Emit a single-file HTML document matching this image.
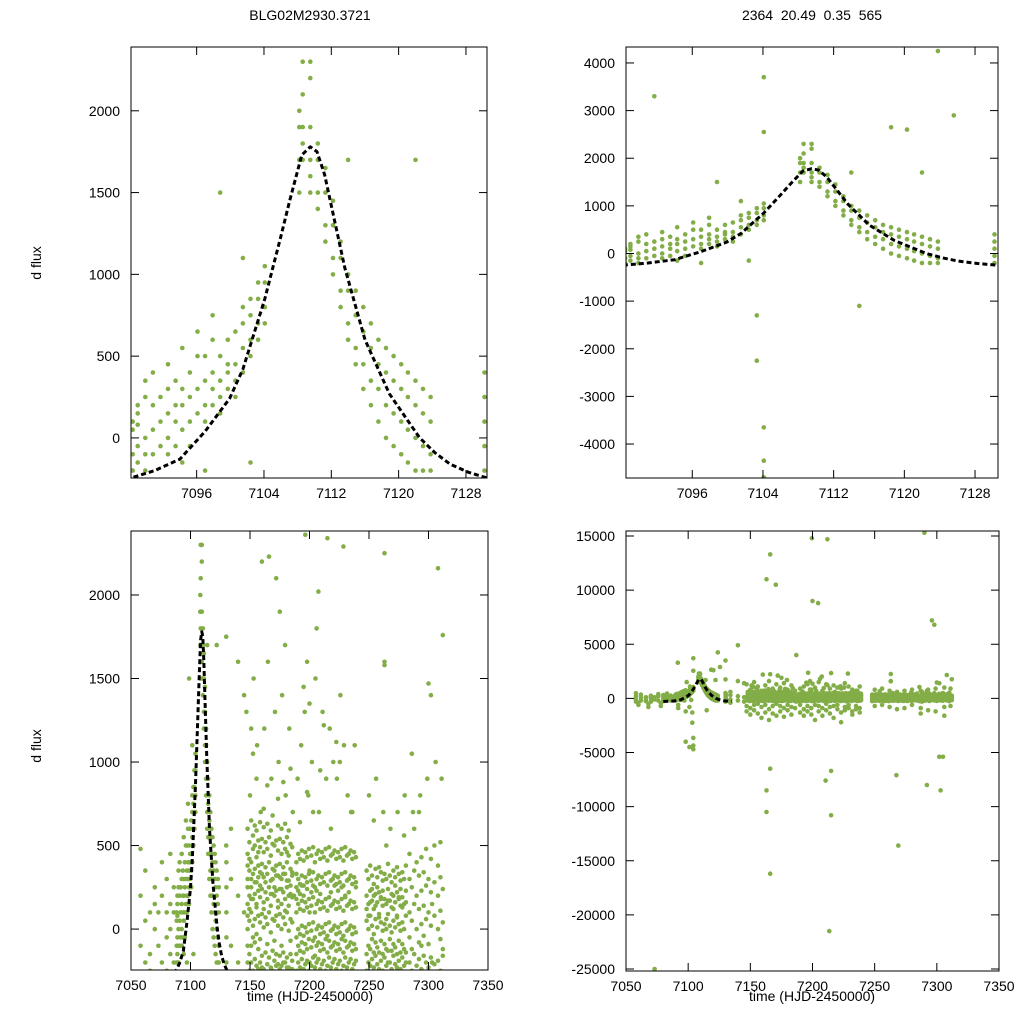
<!DOCTYPE html>
<html><head><meta charset="utf-8">
<style>
html,body{margin:0;padding:0;background:#fff;overflow:hidden;width:1024px;height:1024px;}
svg{display:block;font-family:"Liberation Sans",sans-serif;}
</style></head>
<body>
<svg id="chart" width="1024" height="1024" viewBox="0 0 1024 1024" xmlns="http://www.w3.org/2000/svg">
<rect width="1024" height="1024" fill="#fff"/>
<text x="310" y="20" font-size="14" text-anchor="middle">BLG02M2930.3721</text>
<text x="812" y="20" font-size="14" text-anchor="middle" xml:space="preserve">2364  20.49  0.35  565</text>
<text transform="translate(41,263) rotate(-90)" font-size="14" text-anchor="middle">d flux</text>
<text transform="translate(41,746) rotate(-90)" font-size="14" text-anchor="middle">d flux</text>
<text x="310" y="1001" font-size="14" text-anchor="middle">time (HJD-2450000)</text>
<text x="812" y="1001" font-size="14" text-anchor="middle">time (HJD-2450000)</text>
</svg>
<script>
// ---- data: zoom-window nights [time, fluxes] ----
const zoomNights = [
[7088.4,[-200,50,-100,100]],[7089.0,[-150,80,150,-50,200]],[7089.9,[-100,0,250,350,-200]],
[7090.8,[50,-100,200,400]],[7091.7,[100,-50,250,3300]],[7092.6,[150,0,300,450,-100]],
[7093.5,[100,200,-50,350]],[7094.3,[200,50,300,550,-150]],[7095.2,[250,100,400,-50]],
[7096.1,[300,150,500,650]],[7097.0,[200,350,100,500,-200]],[7097.9,[300,400,200,600,750]],
[7098.8,[350,250,500,150,1500]],[7099.7,[400,300,600,450]],[7100.6,[450,350,650,250]],
[7101.5,[550,400,700,800,1100]],[7102.4,[600,500,750,-150,850]],[7103.3,[700,850,600,950,-1300,-2250]],
[7104.1,[800,950,1050,700,3700,2550,-3650,-4350,-4700]],[7108.2,[1500,1700,1900,2000]],
[7108.6,[1800,2100,2300,1900,1700]],[7109.5,[1600,1900,2200,2300,1700,1500]],
[7110.4,[1500,1700,1800,1400]],[7111.3,[1300,1500,1200,1650]],[7112.2,[1100,1300,1000,1450]],
[7113.1,[900,1100,1200,800]],[7114.0,[700,900,1000,600,1700]],[7114.9,[550,750,900,450,-1100]],
[7115.8,[450,650,800,300]],[7116.7,[350,550,700,200]],[7117.6,[300,450,600,100]],
[7118.5,[200,400,550,0,2650]],[7119.4,[150,350,500,-50]],[7120.3,[100,300,450,-100,2600]],
[7121.1,[50,250,400,-150]],[7122.0,[0,200,350,-200,1700]],[7122.9,[-50,150,300,-200]],
[7123.8,[-100,100,250,-200,4250]],[7125.6,[2900]],[7130.2,[-50,100,250,400,-200]]
];
// ---- data: full-season nights [time, fluxes] ----
const seasonNights = [
[7058,[-100,200,-300,480]],[7062,[50,-200,350]],[7066,[-150,100,-250]],[7070,[0,250,-300,150]],
[7073,[-25000,-100,100]],[7076,[200,-200,400]],[7080,[-50,300,-250,100]],[7083,[150,-150,450,0]],
[7086,[-200,100,250]],[7130,[3500,1750,500,-300]],[7134,[-100,300,-400,600]],
[7140,[4900,1600,200,-200]],[7145,[1400,100,-300]],
[7148,[-200,0,150,300,450,600,80,250,-100,380]],[7149.5,[-150,50,200,350,520,-250,120,420]],
[7151,[-100,100,250,400,650,1200,-200,300,180]],[7152.5,[-250,20,180,330,480,560,1050,-50]],
[7154,[-180,60,210,360,500,620,-80,280]],[7155.5,[-220,-30,130,280,430,590,150,900]],
[7157,[-120,80,230,380,530,-240,310,460]],[7158.5,[-200,40,190,340,490,640,-60,260]],
[7160,[-160,90,240,390,540,2200,-230,330]],[7161.5,[-240,10,160,310,460,610,120,720]],
[7163,[-140,70,220,370,520,11000,-10500,-8500,280]],[7164.5,[-210,30,180,330,480,630,-90,860]],
[7166,[-170,100,250,400,550,2230,-16200,-6500,13300]],[7167.5,[-230,-20,140,290,440,590,210]],
[7169,[-130,60,210,360,510,-250,300,680]],[7170.5,[-190,50,200,350,500,10500,-70,250]],
[7172,[-150,80,230,380,530,2100,-220,320]],[7173.5,[-210,20,170,320,470,620,130,780]],
[7175,[-160,90,240,390,540,1900,-240,310]],[7176.5,[-220,0,150,300,450,600,-100,240]],
[7178,[-140,70,220,370,520,-200,330,880]],[7179.5,[-200,30,180,330,480,630,110,1700]],
[7181,[-170,100,250,400,550,-230,290,460]],[7182.5,[-230,-10,140,290,440,590,200]],
[7184,[-150,60,210,360,510,-70,260,960]],[7185.5,[-190,40,190,340,490,-240,320]],
[7187,[4000,-300,200]],
[7189,[-250,-50,100,250,400,-150,180,330]],[7190.5,[-200,0,150,300,450,-100,230]],
[7192,[-230,-30,120,270,420,-130,210,640]],[7193.5,[-180,20,170,320,470,-80,260]],
[7195,[-240,-40,110,260,410,1450,-140,200]],[7196.5,[-210,10,160,310,460,2360,-90]],
[7198,[-190,-20,130,280,430,1600,-120,240,820]],[7199.5,[-250,30,180,330,480,14800,-60]],
[7200,[9000,1350,-200,100,350]],[7201.5,[-220,-10,140,290,440,-110,220]],
[7203,[-170,40,190,340,490,-70,260,700]],[7204.5,[-230,-50,100,250,400,8800,-160]],
[7206,[-200,0,150,300,450,1800,-100,230]],[7207.5,[-180,20,170,320,470,2020,-80]],
[7209,[-240,-30,120,270,420,-130,210,950]],[7210.5,[-210,10,160,310,460,-7600,-90]],
[7212,[-190,-20,130,280,430,1220,14700,-120]],[7213.5,[-250,30,180,330,480,-21500,-60]],
[7215,[-220,-40,110,260,410,2340,-10800,-6700,-140]],[7216.5,[-170,40,190,340,490,-70]],
[7218,[-230,-10,140,290,440,-110,220,600]],[7219.5,[-200,0,150,300,450,-100]],
[7221,[-180,20,170,320,470,-80,260]],[7222.5,[-240,-30,120,270,420,1120,-130]],
[7224,[-210,10,160,310,460,-90,230]],[7225.5,[-190,-20,130,280,430,1000,-120]],
[7227,[-250,30,180,330,480,-60,250]],[7228.5,[-220,-40,110,260,410,2290,-140]],
[7230,[-170,40,190,340,490,-70,200]],[7231.5,[-230,-10,140,290,440,-110]],
[7233,[-200,0,150,300,450,-100,220]],[7234.5,[-180,20,170,320,470,-80]],
[7236,[-240,-30,120,270,420,-130,700]],[7237.5,[-210,10,160,310,460,-90]],
[7239,[-190,-20,130,280,430,-120,250]],
[7248,[-150,50,200,350,-250,120]],[7249.5,[-200,0,150,300,-100,80]],
[7251,[-120,80,230,380,-220,160]],[7252.5,[-180,20,170,320,-60,240]],
[7254,[-230,-30,120,270,-140,200,650]],[7255.5,[-160,60,210,360,-80,140]],
[7257,[-210,10,160,310,-110,250]],[7258.5,[-140,70,220,370,-240,90]],
[7260,[-190,40,190,340,-70,180]],[7261.5,[-250,-10,140,290,-150,230]],
[7263,[-170,30,180,330,1600,2250,1580,-90]],[7264.5,[-220,0,150,300,-120,60,500]],
[7266,[-130,90,240,390,-200,170]],[7267.5,[-200,20,170,320,-7100,-60]],
[7269,[-240,-20,130,280,-13600,-130,210]],[7270.5,[-160,50,200,350,-90,120]],
[7272,[-210,10,160,310,-110,260]],[7273.5,[-150,70,220,370,-230,80]],
[7275,[-190,30,180,330,-70,190]],[7276.5,[-240,-10,140,290,-140,240]],
[7278,[-170,40,190,340,-90,130]],[7279.5,[-220,0,150,300,-120,560]],
[7281,[-140,80,230,380,-200,160]],
[7284,[-200,100,300,-50,450]],[7286,[-250,50,250,1050,-120]],[7288,[-150,150,350,-300,600]],
[7290,[-220,0,200,15300,400]],[7292,[-180,120,320,-8000,-80,700]],[7294,[-240,30,230,430,-100]],
[7296,[-160,140,340,7200,-40]],[7298,[-200,60,260,6800,480]],[7300,[-230,100,300,1470,-90]],
[7302,[-170,20,220,1400,-5400,420]],[7303,[-8500,-200,150]],[7305,[-210,80,280,-5400,500]],
[7308,[-190,0,200,2160,380]],[7310,[-250,110,310,-60,520]],[7312,[-160,40,240,1760,-120]]
];
// ---- data: wide-scatter nights (visible mostly in the full-range panel) ----
const spreadNights = [
[7060,[-600,-400]],[7068,[-500,-800]],[7078,[-700,-450]],[7092,[-900,-600]],[7098,[-4000,-1200]],[7101,[-4500,-800]],
[7147,[-1200,1300,-700]],[7150,[-900,800,-1500]],[7153,[1500,-600,-1100]],[7156,[-1400,1100,-500]],
[7159,[-800,700,-1800]],[7162,[1200,-1300,-600]],[7165,[-1000,1600,-2000]],[7168,[900,-700,-1400]],
[7171,[-1600,1300,-500]],[7174,[-700,1000,-1200]],[7177,[1400,-900,-1700]],[7180,[-1100,800,-600]],
[7183,[1200,-1500,-800]],[7186,[-900,700]],
[7190,[-1300,900,-600]],[7193,[1100,-1000,-1600]],[7196,[-700,1300,-1200]],[7199,[-1500,800,-900]],
[7202,[1000,-600,-2000]],[7205,[-1200,1500,-700]],[7208,[-900,700,-1600]],[7211,[1300,-1100,-500]],
[7214,[-1400,900,-800]],[7217,[1200,-700,-1800]],[7220,[-1000,1000,-600]],[7223,[900,-1300,-2200]],
[7226,[-800,1400,-1100]],[7229,[1100,-900,-600]],[7232,[-1200,800,-1500]],[7235,[700,-1000,-700]],
[7238,[-900,1100,-1300]],
[7250,[-700,800]],[7256,[900,-600]],[7262,[-800,700]],[7268,[-1000,600]],[7274,[700,-900]],
[7280,[-600,800]],[7287,[-900,700,-1400]],[7293,[800,-1100]],[7299,[-1200,900]],[7306,[-800,1000,-1600]],[7311,[900,-700]]
];
// ---- model curve samples [time], [flux] ----
const modelT = [7080,7088.2,7091,7094.0,7097.0,7099.9,7101.5,7104.1,7106,7107.1,7108.5,7109.5,7110.3,7111.2,7112.3,7113.6,7114.8,7116.0,7118.9,7120.5,7122.5,7124.3,7126.1,7128.3,7130.5,7135];
const modelF = [-290,-245,-200,-130,40,240,420,850,1230,1460,1730,1780,1750,1610,1350,1040,820,600,270,150,0,-90,-160,-210,-245,-270];
// ---- ticks ----
const xTicksZoom = [7096,7104,7112,7120,7128];
const xTicksSeason = [7050,7100,7150,7200,7250,7300,7350];
const yTicksTL = [0,500,1000,1500,2000];
const yTicksTR = [-4000,-3000,-2000,-1000,0,1000,2000,3000,4000];
const yTicksBL = [0,500,1000,1500,2000];
const yTicksBR = [-25000,-20000,-15000,-10000,-5000,0,5000,10000,15000];

const NS = "http://www.w3.org/2000/svg";
const svg = document.getElementById('chart');
function mk(tag, attrs, parent){const e=document.createElementNS(NS,tag);for(const k in attrs)e.setAttribute(k,attrs[k]);(parent||svg).appendChild(e);return e;}

const fullNights = zoomNights.concat(seasonNights, spreadNights);
const panels = [
 {id:'top-left',   px0:131,px1:487,py0:47,py1:478,x0:7088.2,x1:7130.5,y0:-245,y1:2390,xt:xTicksZoom,yt:yTicksTL,nights:zoomNights},
 {id:'top-right',  px0:626,px1:998,py0:47,py1:478,x0:7088.5,x1:7130.6,y0:-4713,y1:4335,xt:xTicksZoom,yt:yTicksTR,nights:zoomNights},
 {id:'bottom-left',px0:131,px1:488,py0:531,py1:970,x0:7050,x1:7350,y0:-245,y1:2383,xt:xTicksSeason,yt:yTicksBL,nights:fullNights},
 {id:'bottom-right',px0:626,px1:999,py0:531,py1:971,x0:7050,x1:7350,y0:-25185,y1:15463,xt:xTicksSeason,yt:yTicksBR,nights:fullNights}
];

panels.forEach(p=>{
  const sx=t=>p.px0+(t-p.x0)/(p.x1-p.x0)*(p.px1-p.px0);
  const sy=v=>p.py1-(v-p.y0)/(p.y1-p.y0)*(p.py1-p.py0);
  const g=mk('g',{});
  
  
  const cp=mk('clipPath',{id:'clip-'+p.id},g);
  mk('rect',{x:p.px0,y:p.py0,width:p.px1-p.px0,height:p.py1-p.py0},cp);
  const pts=mk('g',{'clip-path':'url(#clip-'+p.id+')',fill:'#82ad47'},g);
  
  
  p.nights.forEach(n=>{
    n[1].forEach(v=>{
      const c=mk('circle',{cx:sx(n[0]).toFixed(1),cy:sy(v).toFixed(1),r:2.3},pts);
      
      
    });
  });
  const d=modelT.map((t,i)=>(i?'L':'M')+sx(t).toFixed(1)+','+sy(modelF[i]).toFixed(1)).join(' ');
  const ml=mk('path',{d:d,fill:'none',stroke:'#000','stroke-width':3,'stroke-dasharray':'5,3','stroke-linejoin':'round','clip-path':'url(#clip-'+p.id+')'},g);
  
  
  const fr=mk('rect',{x:p.px0,y:p.py0,width:p.px1-p.px0,height:p.py1-p.py0,fill:'none',stroke:'#000','stroke-width':1},g);
  
  
  p.xt.forEach(t=>{
    const x=sx(t);
    if(x>p.px0+1&&x<p.px1-1){
      mk('line',{x1:x,x2:x,y1:p.py1,y2:p.py1-8,stroke:'#000'},g);
      mk('line',{x1:x,x2:x,y1:p.py0,y2:p.py0+8,stroke:'#000'},g);
    }
    const tx=mk('text',{x:x,y:p.py1+20,'font-size':14,'text-anchor':'middle'},g);
    tx.textContent=t;
    
    
  });
  p.yt.forEach(v=>{
    const y=sy(v);
    mk('line',{x1:p.px0,x2:p.px0+8,y1:y,y2:y,stroke:'#000'},g);
    mk('line',{x1:p.px1,x2:p.px1-8,y1:y,y2:y,stroke:'#000'},g);
    const tx=mk('text',{x:p.px0-11,y:y+5,'font-size':14,'text-anchor':'end'},g);
    tx.textContent=v;
    
    
  });
});
</script>
</body></html>
